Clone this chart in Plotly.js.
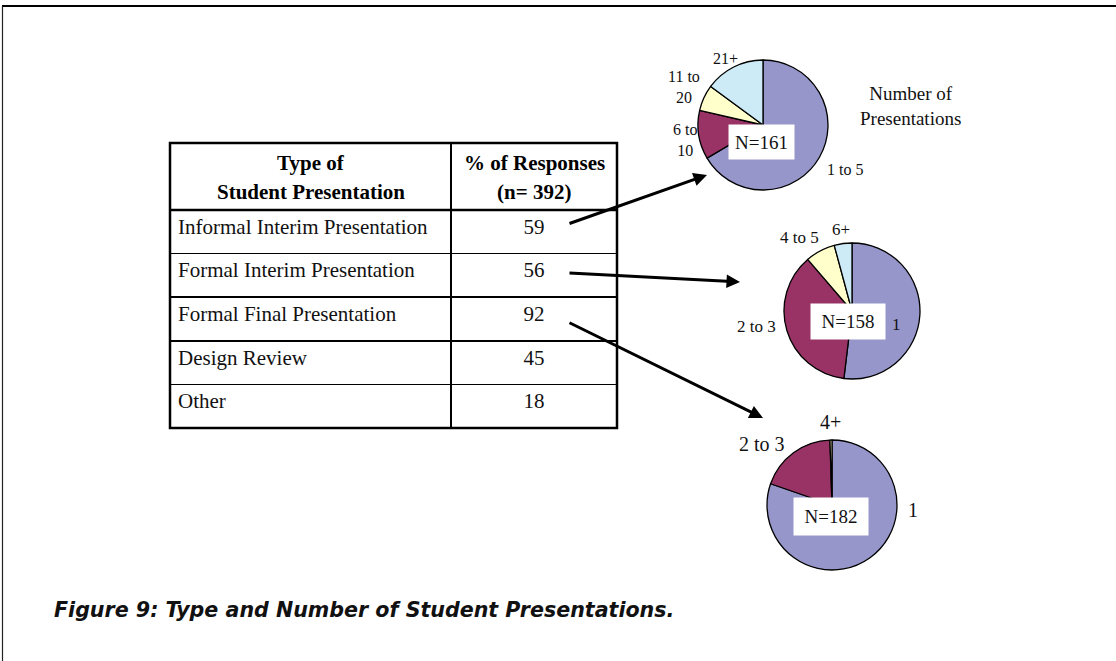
<!DOCTYPE html>
<html>
<head>
<meta charset="utf-8">
<script src="https://cdn.plot.ly/plotly-3.0.1.min.js"></script>
<style>
html,body{margin:0;padding:0;background:#fff;}
#chart{width:1116px;height:661px;}
</style>
</head>
<body>
<div id="chart"></div>
<script>
// ---------- DATA ----------
const headerType = ['Type of', 'Student Presentation'];
const headerPct = ['% of Responses', '(n= 392)'];
const presentationTypes = ['Informal Interim Presentation', 'Formal Interim Presentation', 'Formal Final Presentation', 'Design Review', 'Other'];
const responsePct = [59, 56, 92, 45, 18];

const informalLabels = ['1 to 5', '6 to 10', '11 to 20', '21+'];
const informalValues = [66.5, 12.1, 6.5, 14.9];
const informalN = 161;

const formalInterimLabels = ['1', '2 to 3', '4 to 5', '6+'];
const formalInterimValues = [51.9, 36.8, 7.1, 4.2];
const formalInterimN = 158;

const formalFinalLabels = ['1', '2 to 3', '4+'];
const formalFinalValues = [80.3, 19.2, 0.5];
const formalFinalN = 182;

const pieTitle = 'Number of<br>Presentations';
const caption = 'Figure 9: Type and Number of Student Presentations.';

// ---------- LAYOUT HELPERS ----------
const W = 1116, H = 661;
const px = x => x / W;
const py = y => 1 - y / H;
const SERIF = 'Liberation Serif, Times New Roman, serif';
const sliceColors = ['#9696CA', '#993366', '#FFFFCC', '#CDEBF7'];

function pieTrace(labels, values, cx, cy, r) {
  return {
    type: 'pie',
    labels: labels,
    values: values,
    sort: false,
    direction: 'clockwise',
    rotation: 0,
    textinfo: 'none',
    hoverinfo: 'label+value',
    showlegend: false,
    marker: { colors: sliceColors.slice(0, labels.length), line: { color: '#000', width: 1.3 } },
    domain: { x: [px(cx - r), px(cx + r)], y: [py(cy + r), py(cy - r)] }
  };
}

const tableTrace = {
  type: 'table',
  domain: { x: [px(170), px(617)], y: [py(428), py(143)] },
  columnwidth: [281, 166],
  header: {
    values: ['', ''],
    height: 67,
    line: { color: '#fff', width: 0 },
    fill: { color: '#fff' },
    font: { family: SERIF, size: 21, color: '#000' }
  },
  cells: {
    values: [presentationTypes, responsePct],
    align: ['left', 'center'],
    height: 43.6,
    line: { color: '#000', width: 1.5 },
    fill: { color: '#fff' },
    font: { family: SERIF, size: 21, color: '#111' }
  }
};

const data = [
  tableTrace,
  pieTrace(informalLabels, informalValues, 763, 125, 65),
  pieTrace(formalInterimLabels, formalInterimValues, 852, 311, 68),
  pieTrace(formalFinalLabels, formalFinalValues, 832, 505, 65)
];

function label(text, x, y, size, bold) {
  return { text: bold ? '<b>' + text + '</b>' : text, x: px(x), y: py(y), xref: 'paper', yref: 'paper', showarrow: false,
           xanchor: 'center', yanchor: 'middle', font: { family: SERIF, size: size, color: bold ? '#000' : '#111' } };
}
function nBox(n, x, y, w, h) {
  return { text: 'N=' + n, x: px(x), y: py(y), xref: 'paper', yref: 'paper', showarrow: false,
           xanchor: 'center', yanchor: 'middle', bgcolor: '#fff', width: w, height: h,
           font: { family: SERIF, size: 19, color: '#111' } };
}
function arrow(x0, y0, x1, y1) {
  return { text: '', x: px(x1), y: py(y1), xref: 'paper', yref: 'paper', showarrow: true,
           ax: x0 - x1, ay: y0 - y1, axref: 'pixel', ayref: 'pixel',
           arrowhead: 2, arrowsize: 0.9, arrowwidth: 3, arrowcolor: '#000', standoff: 0 };
}
const br = s => s.replace(' to ', ' to<br>');

const annotations = [
  // table header
  label(headerType[0], 310.5, 163, 21, true),
  label(headerType[1], 310.5, 192, 21, true),
  label(headerPct[0], 534, 163, 21, true),
  label(headerPct[1], 534, 192, 21, true),
  // pie 1
  label(informalLabels[3], 725, 59, 16),
  label(br(informalLabels[2]), 684, 87, 16),
  label(br(informalLabels[1]), 685, 140, 16),
  label(informalLabels[0], 845, 169, 16),
  label(pieTitle, 910, 106, 19),
  nBox(informalN, 762, 142, 63, 32),
  // pie 2
  label(formalInterimLabels[3], 841, 229, 17),
  label(formalInterimLabels[2], 799, 238, 17),
  label(formalInterimLabels[1], 756, 327, 17),
  label(formalInterimLabels[0], 896, 324, 17),
  nBox(formalInterimN, 848, 321, 72, 33),
  // pie 3
  label(formalFinalLabels[2], 830, 422, 20),
  label(formalFinalLabels[1], 762, 444, 20),
  label(formalFinalLabels[0], 913, 510, 20),
  nBox(formalFinalN, 831, 516, 72, 35),
  // arrows
  arrow(568, 224, 707, 175),
  arrow(568, 273, 740, 282),
  arrow(568, 322, 763, 418),
  // caption
  { text: caption, x: px(52), y: py(610), xref: 'paper', yref: 'paper', showarrow: false,
    xanchor: 'left', yanchor: 'middle',
    font: { family: 'DejaVu Sans, sans-serif', size: 20.6, color: '#111', weight: 'bold', style: 'italic' } }
];

const shapes = [
  { type: 'line', xref: 'paper', yref: 'paper', x0: px(2), x1: 1, y0: py(6), y1: py(6), line: { color: '#000', width: 2 } },
  { type: 'line', xref: 'paper', yref: 'paper', x0: px(2.5), x1: px(2.5), y0: py(6), y1: 0, line: { color: '#222', width: 1.2 } },
  // table emphasis lines
  { type: 'rect', xref: 'paper', yref: 'paper', x0: px(170), x1: px(617), y0: py(428), y1: py(143), line: { color: '#000', width: 2.5 } },
  { type: 'line', xref: 'paper', yref: 'paper', x0: px(170), x1: px(617), y0: py(210), y1: py(210), line: { color: '#000', width: 2.5 } },
  { type: 'line', xref: 'paper', yref: 'paper', x0: px(451), x1: px(451), y0: py(428), y1: py(143), line: { color: '#000', width: 2 } }
];

const layout = {
  width: W, height: H,
  margin: { l: 0, r: 0, t: 0, b: 0 },
  paper_bgcolor: '#fff',
  plot_bgcolor: '#fff',
  showlegend: false,
  annotations: annotations,
  shapes: shapes
};

Plotly.newPlot('chart', data, layout, { displayModeBar: false, staticPlot: true });
</script>
</body>
</html>
